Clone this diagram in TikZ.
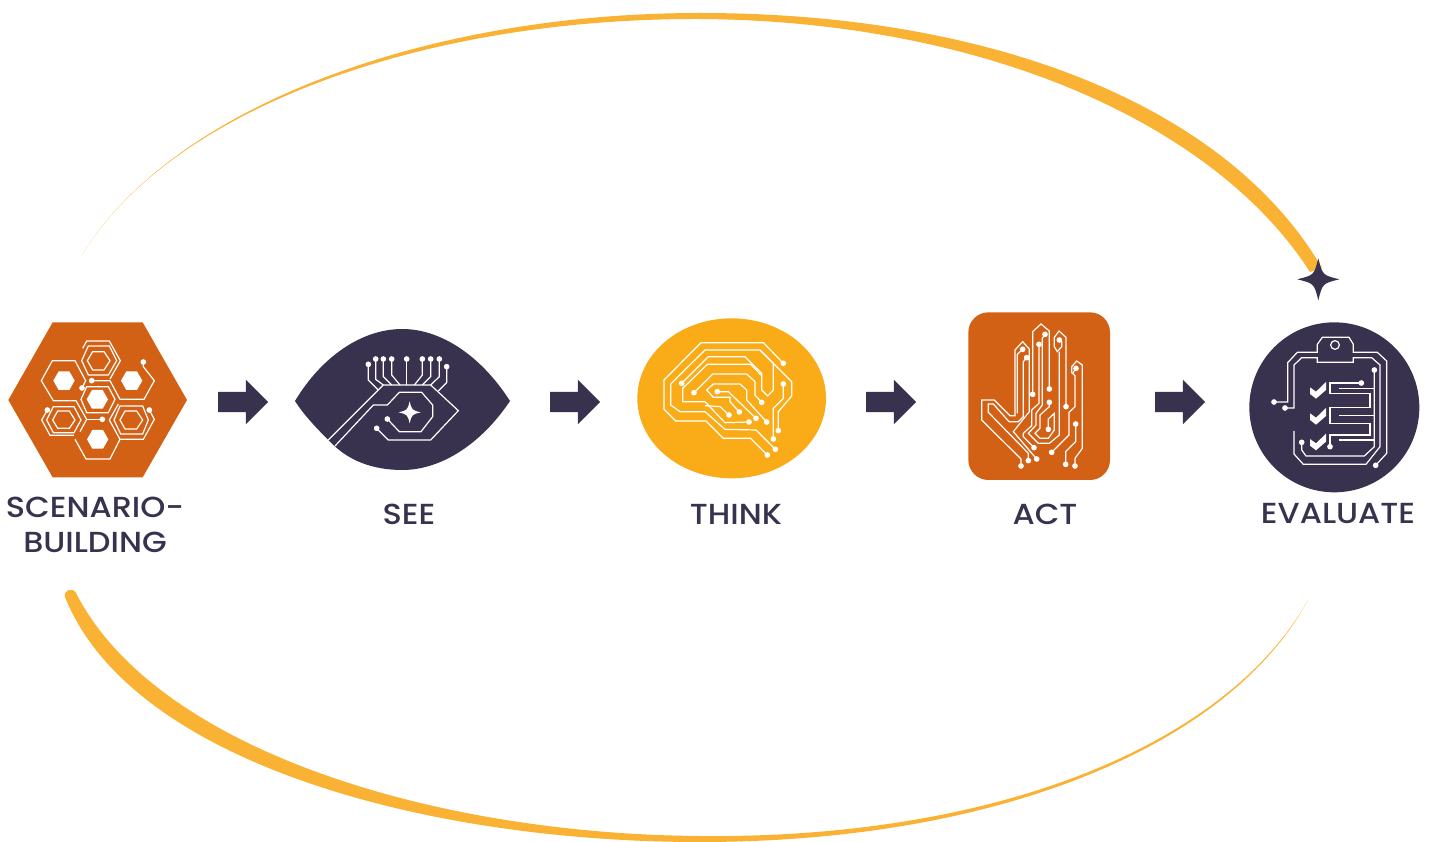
\documentclass[tikz,border=0pt]{standalone}
\usepackage{fontspec}
\setmainfont{Poppins}[UprightFont=* Medium,FakeStretch=1.1]
\usetikzlibrary{shapes.arrows}
\definecolor{navy}{HTML}{38324F}
\definecolor{rust}{HTML}{D26115}
\definecolor{amber}{HTML}{F9AC17}
\definecolor{swoosh}{HTML}{F9B233}
\tikzset{
    trace/.style={draw=white,line width=1.2pt,line join=miter},
    pad/.style={fill=white},
    label/.style={text=navy,font=\fontsize{29}{35}\selectfont,align=center,inner sep=0pt},
    blockarrow/.style={single arrow,fill=navy,inner xsep=0pt,inner ysep=10pt,minimum height=50pt,minimum width=44pt,
        single arrow head extend=12pt,single arrow tip angle=90,single arrow head indent=0pt},
    icon/.style={shift={#1},scale=1/3},
}
% four pointed star: centre, radius, colour
\newcommand{\sparkle}[4]{\fill[#4] (#1-#3,#2) .. controls (#1-#3*0.2,#2-#3*0.2) .. (#1,#2-#3)
    .. controls (#1+#3*0.2,#2-#3*0.2) .. (#1+#3,#2) .. controls (#1+#3*0.2,#2+#3*0.2) .. (#1,#2+#3)
    .. controls (#1-#3*0.2,#2+#3*0.2) .. cycle;}
\begin{document}
\begin{tikzpicture}[x=1pt,y=-1pt]
    \useasboundingbox (0,0) rectangle (1430,842);
    % swooshes
    \fill[swoosh] (82,255) .. controls (170,110) and (420,13) .. (700,13) .. controls (1000,13) and (1230,110) .. (1322,268)
        -- (1310,272) .. controls (1215,124) and (985,21) .. (700,19) .. controls (420,18) and (170,110) .. cycle;
    \fill[swoosh] (65,597) .. controls (130,760) and (420,842) .. (700,842) .. controls (1000,842) and (1230,745) .. (1308,600)
        .. controls (1228,743) and (1000,839) .. (700,836) .. controls (430,834) and (155,748) .. (76,593)
        .. controls (73,587) and (63,590) .. cycle;
    \sparkle{1318.3}{279.3}{21}{navy}
    % scenario-building
    \begin{scope}[icon={(0,310)}]
        \fill[rust] (158,37) -- (428,37) -- (561,270) -- (428,502) -- (158,502) -- (25,270) -- cycle;
        \foreach \c in {(192,212),(395,212),(292,268),(293,388)}
            \fill[white] \c ++(-32,0) -- ++(16,-28) -- ++(32,0) -- ++(16,28) -- ++(-16,28) -- ++(-32,0) -- cycle;
        \draw[trace] (248,115) -- (260,93) -- (328,93) -- (361,152) -- (330,207);
        \draw[trace] (246,234) -- (257,212) -- (225,152) -- (157,152) -- (124,212) -- (160,272) -- (228,272) -- (260,328) -- (240,365);
        \draw[trace] (265,108) -- (328,108) -- (350,152) -- (325,195) -- (265,195) -- (245,152) -- cycle;
        \draw[trace] (278,125) -- (312,125) -- (330,152) -- (312,180) -- (278,180) -- (262,152) -- cycle;
        \draw[trace] (430,156) -- (430,170) -- (463,212) -- (432,268) -- (360,268) -- (330,212) -- (275,212);
        \draw[trace] (260,230) -- (325,230) -- (345,268) -- (325,308) -- (260,308) -- (243,268) -- cycle;
        \draw[trace] (173,303) -- (208,303) -- (225,330) -- (208,355) -- (173,355) -- (158,330) -- cycle;
        \draw[trace] (160,290) -- (222,290) -- (243,330) -- (222,368) -- (160,368) -- (140,330) -- cycle;
        \draw[trace] (142,300) -- (125,330) -- (150,376) -- (222,376);
        \draw[trace] (225,388) -- (258,447) -- (330,447) -- (360,388) -- (430,388) -- (463,328) -- (448,300);
        \draw[trace] (375,303) -- (410,303) -- (428,330) -- (410,357) -- (375,357) -- (360,330) -- cycle;
        \draw[trace] (360,288) -- (428,288) -- (445,330) -- (428,372) -- (362,372) -- (342,330) -- cycle;
        \draw[trace] (360,388) -- (328,330) -- (355,282);
        \draw[trace] (260,328) -- (307,328);
        \foreach \c in {(430,156),(275,212),(246,234),(142,300),(307,328),(448,300)}
            \fill[pad] \c circle (8.5);
    \end{scope}
    % see
    \begin{scope}[icon={(285,320)}]
        \fill[navy] (30,243) .. controls (110,110) and (230,27) .. (352,27) .. controls (470,27) and (590,110) .. (675,243)
            .. controls (590,370) and (470,450) .. (352,450) .. controls (260,450) and (190,420) .. (140,370) .. controls (100,330) and (60,290) .. cycle;
        \draw[trace] (130,360) -- (295,195) -- (437,195) -- (520,272) -- (437,360) -- (310,360) -- (275,325);
        \draw[trace] (150,378) -- (265,255) -- (307,255) -- (343,217) -- (410,217) -- (443,255) -- (443,290) -- (408,335) -- (343,335) -- (307,297);
        \draw[trace] (250,133) -- (250,180) -- (280,210);
        \draw[trace] (272,117) -- (272,178) -- (295,195);
        \draw[trace] (295,117) -- (295,170) -- (320,195);
        \draw[trace] (320,117) -- (320,165) -- (345,195);
        \draw[trace] (365,117) -- (365,195);
        \draw[trace] (412,117) -- (412,165) -- (388,195);
        \draw[trace] (437,117) -- (437,170) -- (412,195);
        \draw[trace] (463,117) -- (463,170) -- (437,195);
        \draw[trace] (485,140) -- (485,188) -- (460,213);
        \foreach \c in {(250,133),(272,117),(295,117),(320,117),(365,117),(412,117),(437,117),(463,117),(485,140),(275,325),(307,297)}
            \fill[pad] \c circle (8.5);
        \sparkle{374}{277}{33}{white}
    \end{scope}
    % think
    \begin{scope}[icon={(630,310)}]
        \fill[amber] (305,265) ellipse (283 and 240);
        \draw[trace] (460,160) -- (400,98) -- (213,98) -- (102,210) -- (102,298) -- (137,333) -- (228,333) -- (280,385) -- (362,385) -- (412,435);
        \draw[trace] (436,418) -- (378,360) -- (285,358) -- (225,305) -- (150,305) -- (122,285) -- (122,222) -- (225,120) -- (390,120) -- (430,160) -- (430,240) -- (413,258) -- (395,240) -- (395,190) -- (345,140) -- (235,140) -- (155,220);
        \draw[trace] (390,120) -- (485,215) -- (485,258) -- (445,305) -- (445,362);
        \draw[trace] (357,336) -- (285,338) -- (225,275) -- (158,275) -- (158,235) -- (232,163) -- (362,163) -- (393,195);
        \draw[trace] (192,248) -- (248,192) -- (350,192) -- (375,215) -- (375,255) -- (395,277);
        \draw[trace] (410,336) -- (350,270) -- (350,240) -- (330,222) -- (250,222) -- (230,240) -- (250,262) -- (300,262) -- (300,275) -- (328,306);
        \draw[trace] (262,245) -- (295,245) -- (378,325);
        \draw[trace] (225,287) -- (270,290) -- (297,315);
        \draw[trace] (460,222) -- (460,265) -- (430,295) -- (430,387);
        \foreach \c in {(460,160),(412,435),(436,418),(155,220),(445,362),(357,336),(192,248),(395,277),(410,336),(328,306),(262,245),(378,325),(297,315),(460,222),(430,387)}
            \fill[pad] \c circle (8.5);
    \end{scope}
    % act
    \begin{scope}[icon={(960,305)}]
        \fill[rust,rounded corners=20pt] (25,22) rectangle (450,525);
        \draw[trace] (183,483) -- (183,462) -- (65,345) -- (65,285) -- (103,285) -- (150,332) -- (165,332) -- (165,135) -- (188,110) -- (208,132) -- (208,320) -- (160,380) -- (230,462);
        \draw[trace] (205,467) -- (205,445) -- (85,322) -- (85,297) -- (100,297) -- (147,350) -- (175,350) -- (190,335) -- (190,170) -- (200,158);
        \draw[trace] (188,133) -- (172,148) -- (172,325);
        \draw[trace] (218,268) -- (218,80) -- (243,57) -- (268,78) -- (268,252);
        \draw[trace] (237,118) -- (237,295) -- (215,315) -- (215,362) -- (190,385) -- (190,395) -- (222,428);
        \draw[trace] (255,88) -- (247,100) -- (247,300) -- (228,325) -- (228,360) -- (205,385) -- (235,415) -- (268,415) -- (298,390) -- (298,140);
        \draw[trace] (318,305) -- (318,97) -- (297,78) -- (283,97) -- (283,125) -- (292,140) -- (305,125) -- (305,110) -- (298,105);
        \draw[trace] (268,292) -- (268,305) -- (240,330) -- (240,370) -- (225,385) -- (240,400) -- (265,400) -- (283,375) -- (283,325) -- (265,342) -- (265,373);
        \draw[trace] (348,190) -- (338,205) -- (345,212) -- (345,305) -- (327,322) -- (327,390) -- (275,442);
        \draw[trace] (335,205) -- (335,185) -- (350,168) -- (367,180) -- (367,430) -- (345,460) -- (345,483);
        \draw[trace] (347,357) -- (347,410) -- (317,440) -- (317,478);
        \foreach \c in {(183,483),(230,462),(205,467),(200,158),(188,133),(218,268),(268,252),(237,118),(222,428),(255,88),(298,105),(318,305),(265,373),(268,292),(348,190),(275,442),(345,483),(347,357),(317,478)}
            \fill[pad] \c circle (8.5);
    \end{scope}
    % evaluate
    \begin{scope}[icon={(1240,250)}]
        \fill[navy] (283,472) circle (255);
        \draw[trace] (102,456) -- (143,456) -- (143,338) -- (172,307) -- (232,307) -- (232,283) -- (247,262) -- (327,262) -- (340,283) -- (340,307) -- (412,307) -- (440,333) -- (440,610) -- (407,646);
        \draw[trace] (135,474) -- (162,474) -- (162,345) -- (185,323) -- (232,323) -- (232,337) -- (340,337) -- (340,323) -- (395,323) -- (420,345) -- (420,590) -- (378,643) -- (190,643) -- (162,612) -- (162,543);
        \draw[trace] (285,285) circle (13);
        \draw[trace] (185,577) -- (185,600) -- (198,618) -- (373,618) -- (403,590) -- (403,360);
        \draw[trace] (364,399) -- (270,399) -- (270,430) -- (390,430) -- (390,473) -- (270,473) -- (270,520) -- (390,520) -- (390,555) -- (270,555) -- (270,590);
        \foreach \y in {415,497,570}
            \draw[trace] (296,\y) -- (403,\y);
        \foreach \y in {0,78,155}
            \fill[white] (210,412+\y) -- (228,425+\y) -- (258,396+\y) -- (258,420+\y) -- (228,446+\y) -- (210,432+\y) -- cycle;
        \foreach \c in {(102,456),(135,474),(407,646),(185,577),(403,360),(364,399),(270,590)}
            \fill[pad] \c circle (8.5);
    \end{scope}
    % block arrows between steps
    \node[blockarrow] (arrowsee) at (238,402) {};
    \node[blockarrow] (arrowthink) at (570,402) {};
    \node[blockarrow] (arrowact) at (886,402) {};
    \node[blockarrow] (arrowevaluate) at (1175,402) {};
    % labels
    \node[label] (scenario) at (95,525) {SCENARIO-\\BUILDING};
    \node[label] (see) at (409,514) {SEE};
    \node[label] (think) at (736,514) {THINK};
    \node[label] (act) at (1045,514) {ACT};
    \node[label] (evaluate) at (1338,514) {EVALUATE};
\end{tikzpicture}
\end{document}
